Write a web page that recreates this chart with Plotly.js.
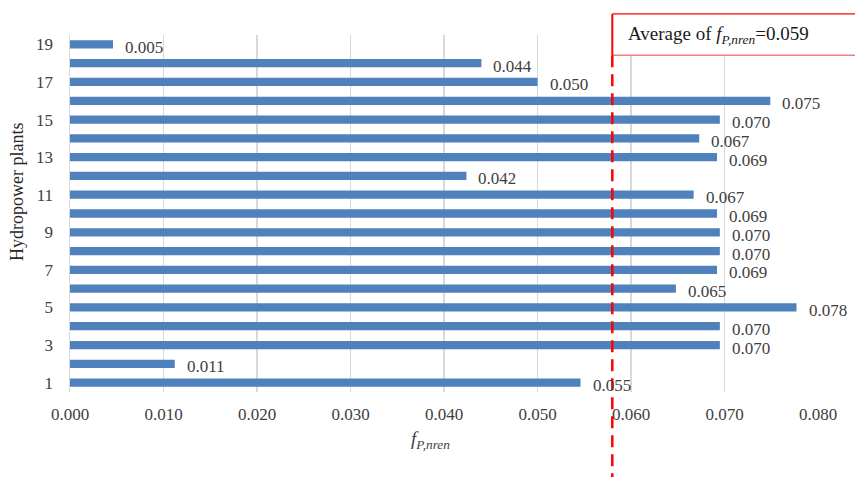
<!DOCTYPE html>
<html>
<head>
<meta charset="utf-8">
<script src="https://cdn.plot.ly/plotly-3.0.1.min.js"></script>
<style>html,body{margin:0;padding:0;background:#fff;}#chart{width:855px;height:477px;}</style>
</head>
<body>
<div id="chart"></div>
<script>
// Data
const plants = [1,2,3,4,5,6,7,8,9,10,11,12,13,14,15,16,17,18,19];
const fPnren = [0.0546,0.0112,0.0695,0.0695,0.0777,0.0648,0.0692,0.0695,0.0695,0.0692,0.0667,0.0424,0.0692,0.0673,0.0695,0.0749,0.0500,0.0440,0.0046];
const valueLabels = ["0.055","0.011","0.070","0.070","0.078","0.065","0.069","0.070","0.070","0.069","0.067","0.042","0.069","0.067","0.070","0.075","0.050","0.044","0.005"];
const xTickVals = [0,0.01,0.02,0.03,0.04,0.05,0.06,0.07,0.08];
const xTickText = ["0.000","0.010","0.020","0.030","0.040","0.050","0.060","0.070","0.080"];
const yTickVals = [1,3,5,7,9,11,13,15,17,19];
const averageLinePos = 0.058;
const averageLabel = "0.059";

const serif = "'Liberation Serif','Times New Roman',serif";
const xMax = 0.08;

const trace = {
  type: 'bar',
  orientation: 'h',
  x: fPnren,
  y: plants,
  marker: {color: '#4f81bd', line: {width: 0}},
  hoverinfo: 'none'
};

const annotations = plants.map((p, i) => ({
  x: fPnren[i], y: p, xref: 'x', yref: 'y',
  text: valueLabels[i], showarrow: false,
  xanchor: 'left', yanchor: 'middle', xshift: 10, yshift: -3,
  font: {family: serif, size: 17, color: '#404040'}
}));

annotations.push({
  xref: 'paper', yref: 'paper', x: -0.071, y: 0.56,
  text: 'Hydropower plants', textangle: -90, showarrow: false,
  xanchor: 'center', yanchor: 'middle',
  font: {family: serif, size: 18, color: '#262626'}
});
annotations.push({
  xref: 'paper', yref: 'paper', x: 0.482, y: -0.134,
  text: '<i>f<sub>P,nren</sub></i>', showarrow: false,
  xanchor: 'center', yanchor: 'middle',
  font: {family: serif, size: 19, color: '#404040'}
});
annotations.push({
  xref: 'paper', yref: 'paper', x: averageLinePos / xMax + 0.018, y: 1.0,
  text: 'Average of <i>f<sub>P,nren</sub></i>=' + averageLabel, showarrow: false,
  xanchor: 'left', yanchor: 'middle',
  font: {family: serif, size: 19, color: '#1a1a1a'}
});

const boxX0 = averageLinePos / xMax;
const shapes = [
  {type: 'rect', xref: 'paper', yref: 'paper', x0: boxX0, x1: 1.2, y0: 0.943, y1: 1.059,
   fillcolor: '#ffffff', line: {width: 0}, layer: 'above'},
  {type: 'line', xref: 'paper', yref: 'paper', x0: boxX0, x1: 1.2, y0: 1.059, y1: 1.059,
   line: {color: '#ff0000', width: 1.2}, layer: 'above'},
  {type: 'line', xref: 'paper', yref: 'paper', x0: boxX0, x1: 1.2, y0: 0.943, y1: 0.943,
   line: {color: '#f08080', width: 1.5}, layer: 'above'},
  {type: 'line', xref: 'paper', yref: 'paper', x0: boxX0, x1: boxX0, y0: 0.943, y1: 1.059,
   line: {color: '#ff0000', width: 2}, layer: 'above'},
  {type: 'line', xref: 'x', yref: 'paper', x0: averageLinePos, x1: averageLinePos, y0: 0.943, y1: -0.24,
   line: {color: '#ff0000', width: 2.5, dash: '12px,7px'}, layer: 'above'}
];

const layout = {
  width: 855, height: 477,
  margin: {l: 70, r: 37, t: 35, b: 85},
  paper_bgcolor: '#ffffff', plot_bgcolor: '#ffffff',
  showlegend: false,
  bargap: 0.56,
  xaxis: {
    range: [0, xMax], tickvals: xTickVals, ticktext: xTickText,
    showgrid: true, gridcolor: '#d9d9d9', gridwidth: 1.5,
    zeroline: false, showline: false, ticks: '',
    ticklabelstandoff: 10,
    tickfont: {family: serif, size: 17, color: '#404040'},
    fixedrange: true
  },
  yaxis: {
    range: [0.5, 19.5], tickvals: yTickVals,
    showgrid: false, zeroline: false,
    showline: true, linecolor: '#d9d9d9', linewidth: 1.5,
    ticks: '', ticklabelstandoff: 12,
    tickfont: {family: serif, size: 17, color: '#404040'},
    fixedrange: true
  },
  annotations: annotations,
  shapes: shapes
};

Plotly.newPlot('chart', [trace], layout, {displayModeBar: false, staticPlot: true});
</script>
</body>
</html>
